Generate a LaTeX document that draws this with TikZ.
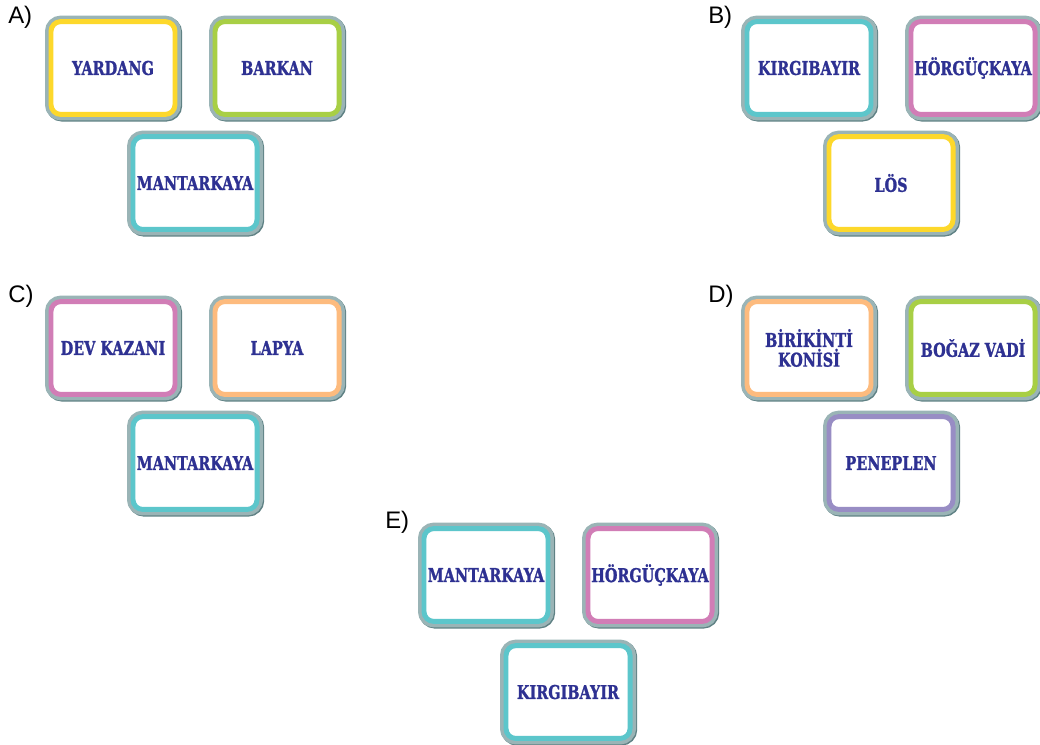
\documentclass[tikz,border=0pt]{standalone}
\usepackage{fontspec}
\setmainfont{Liberation Sans}
\newfontfamily\cardfont{DejaVu Serif}[FakeStretch=0.76, BoldFeatures={FakeBold=1.2}]
\usetikzlibrary{positioning}

\definecolor{cardyellow}{HTML}{FDD82B}
\definecolor{cardgreen}{HTML}{A8CF45}
\definecolor{cardteal}{HTML}{5CC6CB}
\definecolor{cardpink}{HTML}{D17DB6}
\definecolor{cardorange}{HTML}{FDBB7E}
\definecolor{cardpurple}{HTML}{988DC4}
\definecolor{cardtext}{HTML}{2E3192}
\definecolor{rimlight}{HTML}{9AB4B6}
\definecolor{rimdark}{HTML}{5F8184}

\tikzset{
  card/.style={draw=#1, line width=3.5pt, rounded corners=7pt, fill=white,
    minimum width=3.1cm, minimum height=2.32cm, inner sep=2pt, align=center,
    text=cardtext, font=\cardfont\bfseries\fontsize{13.5}{14}\selectfont,
    preaction={draw=rimdark, line width=8.5pt, transform canvas={shift={(0.8pt,-0.8pt)}}},
    preaction={draw=rimlight, line width=8.5pt}},
  tag/.style={anchor=base west, inner sep=0pt, font=\fontsize{17}{20}\selectfont}
}

\begin{document}
\begin{tikzpicture}[x=0.025cm, y=-0.025cm]
    \useasboundingbox (0,0) rectangle (1040,744);

    % Labels
    \node [tag] at (8,23) (labA) {A)};
    \node [tag] at (708,23) (labB) {B)};
    \node [tag] at (8,302) (labC) {C)};
    \node [tag] at (708,302) (labD) {D)};
    \node [tag] at (385,528) (labE) {E)};

    % A
    \node [card=cardyellow] at (113,68) (yardang) {YARDANG};
    \node [card=cardgreen, right of=yardang, node distance=4.1cm] (barkan) {BARKAN};
    \node [card=cardteal, below of=yardang, node distance=2.875cm, xshift=2.05cm] (mantarA) {MANTARKAYA};

    % B
    \node [card=cardteal] at (809,68) (kirgiB) {KIRGIBAYIR};
    \node [card=cardpink, right of=kirgiB, node distance=4.1cm] (horguB) {HÖRGÜÇKAYA};
    \node [card=cardyellow, below of=kirgiB, node distance=2.875cm, xshift=2.05cm] (los) {LÖS};

    % C
    \node [card=cardpink] at (113,348) (devkazani) {DEV KAZANI};
    \node [card=cardorange, right of=devkazani, node distance=4.1cm] (lapya) {LAPYA};
    \node [card=cardteal, below of=devkazani, node distance=2.875cm, xshift=2.05cm] (mantarC) {MANTARKAYA};

    % D
    \node [card=cardorange] at (809,348) (birikinti) {BİRİKİNTİ\\KONİSİ};
    \node [card=cardgreen, right of=birikinti, node distance=4.1cm] (bogaz) {BOĞAZ VADİ};
    \node [card=cardpurple, below of=birikinti, node distance=2.875cm, xshift=2.05cm] (peneplen) {PENEPLEN};

    % E
    \node [card=cardteal] at (486,575) (mantarE) {MANTARKAYA};
    \node [card=cardpink, right of=mantarE, node distance=4.1cm] (horguE) {HÖRGÜÇKAYA};
    \node [card=cardteal, below of=mantarE, node distance=2.925cm, xshift=2.05cm] (kirgiE) {KIRGIBAYIR};

\end{tikzpicture}
\end{document}
